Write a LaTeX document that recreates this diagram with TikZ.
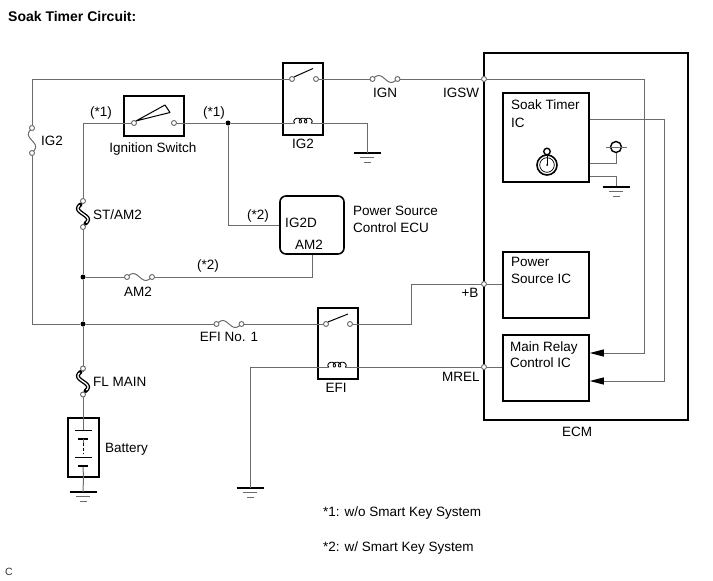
\documentclass[tikz,border=0pt]{standalone}
\usepackage{fontspec}
\setmainfont{Liberation Sans}
\usetikzlibrary{arrows.meta}
\definecolor{wirec}{gray}{0.42}
\begin{document}
\begin{tikzpicture}[x=1pt,y=-1pt,
  wire/.style={draw=wirec, line width=1pt},
  box/.style={draw=black, line width=1.6pt, inner sep=0pt},
  lbl/.style={font=\fontsize{13.5}{16}\selectfont, inner sep=0pt, text height=9.7pt, text depth=0pt},
  term/.style={circle, draw=wirec, fill=white, line width=0.9pt, inner sep=0pt, minimum size=5pt},
  jdot/.style={circle, fill=black, inner sep=0pt, minimum size=5pt},
  arr/.style={-{Triangle[length=14pt,width=7pt,color=black]}},
  hfuse/.pic={
    \draw[wire] plot[domain=-12.5:12.5, samples=40, smooth] (\x, {-3.4*sin(14.4*(\x+12.5))});
    \node[term] (-l) at (-12.5,0) {};
    \node[term] (-r) at (12.5,0) {};
  },
  vfuse/.pic={
    \draw[wire] plot[domain=-12.5:12.5, samples=40, smooth] ({-3.6*sin(14.4*(\x+12.5))}, \x);
    \node[term] (-t) at (0,-12.5) {};
    \node[term] (-b) at (0,12.5) {};
  },
  flink/.pic={
    \draw[wire] (0,-13) -- (0,-10) (0,10) -- (0,13);
    \draw[black, line width=4pt, line cap=round] plot[domain=-9.5:9.5, samples=40, smooth] ({-4*sin(18*(\x+10))+0.2*\x}, \x);
    \draw[white, line width=1.3pt, line cap=round] plot[domain=-8.5:8.5, samples=40, smooth] ({-4*sin(18*(\x+10))+0.2*\x}, \x);
    \node[term] (-t) at (0,-13) {};
    \node[term] (-b) at (0,13) {};
  },
  coil/.pic={
    \draw[black, line width=0.9pt] plot[domain=0:18.85, samples=120, smooth] ({-8+0.849*\x-2.3*sin(\x r)}, {-2.4*(1-cos(\x r))});
    \coordinate (-l) at (-8,0);
    \coordinate (-r) at (8,0);
  },
  gnd/.pic={
    \draw[black, line width=1.8pt] (-13.5,0) -- (13.5,0);
    \draw[wirec, line width=1pt] (-7,4.5) -- (7,4.5);
    \draw[wirec, line width=1pt] (-3.5,9) -- (3.5,9);
  }
]
\useasboundingbox (0,0) rectangle (713,581);

% ---------- title ----------
\node[lbl, font=\bfseries\fontsize{14}{16}\selectfont, anchor=west] (title) at (8,17) {Soak Timer Circuit:};

% ---------- boxes ----------
\node[box, minimum width=204pt, minimum height=367pt] (ecm) at (586,236.5) {};
\node[box, minimum width=86pt, minimum height=89pt] (st) at (546,137.5) {};
\node[box, minimum width=86pt, minimum height=66pt] (ps) at (546,285) {};
\node[box, minimum width=86pt, minimum height=66pt] (mr) at (546,368) {};
\node[box, minimum width=60pt, minimum height=40pt] (isw) at (154,116) {};
\node[box, minimum width=40pt, minimum height=72pt] (rly1) at (303,99) {};
\node[box, minimum width=40pt, minimum height=71pt] (rly2) at (338,343.5) {};
\node[box, rounded corners=6pt, minimum width=64pt, minimum height=58pt] (psc) at (312,225) {};
\node[box, minimum width=31pt, minimum height=59pt] (bat) at (83.5,447.5) {};

% ---------- terminals and junctions ----------
\coordinate (tl) at (32,79);
\coordinate (bl) at (32,324);
\node[term] (r1a) at (292,79) {};
\node[term] (r1b) at (316,79) {};
\pic (ign) at (385,79) {hfuse};
\node[term] (igsw) at (484,79) {};
\pic (ig2f) at (32,140.5) {vfuse};

\node[term] (isl) at (134,123) {};
\node[term] (isr) at (174,123) {};
\coordinate (c83) at (83,123);
\pic (stam) at (83,214) {flink};
\node[jdot] (j1) at (228,123) {};
\node[jdot] (j2) at (83,277) {};
\node[jdot] (j3) at (83,324) {};
\pic (flm) at (83,381.5) {flink};
\pic (coil1) at (303,123) {coil};
\coordinate (g1c) at (367,123);
\coordinate (g1) at (367,153);
\pic at (g1) {gnd};

\pic (am2f) at (139.5,277) {hfuse};
\pic (efif) at (229,324) {hfuse};
\node[term] (r2a) at (326,324) {};
\node[term] (r2b) at (350,324) {};
\coordinate (pb1) at (411,324);
\coordinate (pb2) at (411,284);
\node[term] (plusb) at (484,284) {};
\node[term] (mrel) at (484,367) {};
\pic (coil2) at (337,367) {coil};
\coordinate (g2c) at (250,367);
\coordinate (g2) at (250,488);
\pic at (g2) {gnd};
\coordinate (bg) at (83,492);
\pic at (bg) {gnd};

% ---------- wires ----------
\draw[wire] (r1a) -- (tl) -- (ig2f-t);
\draw[wire] (ig2f-b) -- (bl) -- (j3);
\draw[wire] (r1b) -- (ign-l);
\draw[wire] (ign-r) -- (igsw);
\draw[wire] (isl) -- (c83) -- (stam-t);
\draw[wire] (stam-b) -- (j2) -- (j3) -- (flm-t);
\draw[wire] (flm-b) -- (83,430);
\draw[wire] (83,466) -- (bat.south) -- (bg);
\draw[wire] (isr) -- (j1) -- (coil1-l);
\draw[wire] (coil1-r) -- (g1c) -- (g1);
\draw[wire] (j1) -- (j1 |- psc.west) -- (psc.west);
\draw[wire] (j2) -- (am2f-l);
\draw[wire] (am2f-r) -- (psc.south |- am2f-r) -- (psc.south);
\draw[wire] (j3) -- (efif-l);
\draw[wire] (efif-r) -- (r2a);
\draw[wire] (r2b) -- (pb1) -- (pb2) -- (plusb) -- (plusb -| ps.west);
\draw[wire] (mrel -| mr.west) -- (mrel) -- (coil2-r);
\draw[wire] (coil2-l) -- (g2c) -- (g2);

% relay blades
\draw[black, line width=1pt] (r1a.north east) -- (313,68.5);
\draw[black, line width=1pt] (r2a.north east) -- (348,314);
% ignition switch lever
\draw[black, line width=1pt, line join=round] (isl.north east) -- (165,105) -- (170,112.5) -- cycle;

% battery plates
\draw[black, line width=1pt] (75,430) -- (92,430);
\draw[black, line width=2pt] (78,439) -- (88,439);
\draw[black, line width=0.9pt, dash pattern=on 2.5pt off 2.5pt] (83,443) -- (83,454);
\draw[black, line width=1pt] (75,457) -- (92,457);
\draw[black, line width=2pt] (78,466) -- (88,466);
\draw[wire] (83,439) -- (83,443);

% ---------- inside ECM ----------
\coordinate (s1) at (644,79);
\coordinate (s2) at (644,353);
\draw[wire, arr] (igsw) -- (s1) -- (s2) -- (s2 -| mr.east);
\coordinate (t1) at (664,119);
\coordinate (t2) at (664,381);
\draw[wire, arr] (st.east |- t1) -- (t1) -- (t2) -- (t2 -| mr.east);

\node[circle, draw=black, line width=1.4pt, minimum size=11pt, inner sep=0pt] (neg) at (616,147) {};
\draw[wirec, line width=1pt] (606,147) -- (627,147);
\coordinate (u1) at (616,163);
\draw[wire] (st.east |- u1) -- (u1) -- (neg.south);
\coordinate (u2) at (616,176);
\coordinate (g3) at (616,187);
\draw[wire] (st.east |- u2) -- (u2) -- (g3);
\pic at (g3) {gnd};

% clock symbol
\node[circle, draw=black, line width=1.6pt, minimum size=20pt, inner sep=0pt] (clk) at (547,165) {};
\draw[black, line width=0.7pt] (clk.center) circle[radius=7.3pt];
\draw[black, line width=0.8pt] (clk.center) -- (547,156);
\node[circle, draw=black, fill=white, line width=1.4pt, minimum size=6.5pt, inner sep=0pt] (knob) at (547,151.5) {};
\fill[black] (clk.center) circle[radius=1pt];

% ---------- labels ----------
\node[lbl] (l-ig2a) at (52,141) {IG2};
\node[lbl] (l-s1a) at (101,112) {(*1)};
\node[lbl] (l-s1b) at (214,112) {(*1)};
\node[lbl] (l-isw) at (153,148) {Ignition Switch};
\node[lbl] (l-ig2b) at (303,144) {IG2};
\node[lbl] (l-ign) at (385,93) {IGN};
\node[lbl] (l-igsw) at (461,93) {IGSW};
\node[lbl, anchor=west] (l-stam) at (93,215) {ST/AM2};
\node[lbl] (l-s2a) at (258,215) {(*2)};
\node[lbl] (l-ig2d) at (301,223) {IG2D};
\node[lbl] (l-am2b) at (309,245) {AM2};
\node[lbl, anchor=west] (l-psc1) at (353,211) {Power Source};
\node[lbl, anchor=west] (l-psc2) at (353,228) {Control ECU};
\node[lbl] (l-s2b) at (208,265) {(*2)};
\node[lbl] (l-am2) at (138,292) {AM2};
\node[lbl] (l-efi1) at (229,337) {EFI No. 1};
\node[lbl] (l-pb) at (470,293) {+B};
\node[lbl] (l-efi) at (336,388) {EFI};
\node[lbl] (l-mrel) at (461,377) {MREL};
\node[lbl, anchor=west] (l-flm) at (93,382) {FL MAIN};
\node[lbl, anchor=west] (l-bat) at (105,448) {Battery};
\node[lbl] (l-ecm) at (577,432) {ECM};
\node[lbl, anchor=west] (l-st1) at (511,105) {Soak Timer};
\node[lbl, anchor=west] (l-st2) at (511,123) {IC};
\node[lbl, anchor=west] (l-ps1) at (511,262) {Power};
\node[lbl, anchor=west] (l-ps2) at (511,279) {Source IC};
\node[lbl, anchor=west] (l-mr1) at (510,347) {Main Relay};
\node[lbl, anchor=west] (l-mr2) at (510,363) {Control IC};
\node[lbl, anchor=west] (l-n1) at (323,512) {*1: w/o Smart Key System};
\node[lbl, anchor=west] (l-n2) at (323,547) {*2: w/ Smart Key System};
\node[lbl, anchor=west, font=\fontsize{10.5}{12}\selectfont, text height=7.5pt, text=black!80] (l-c) at (5,572) {C};
\end{tikzpicture}
\end{document}
